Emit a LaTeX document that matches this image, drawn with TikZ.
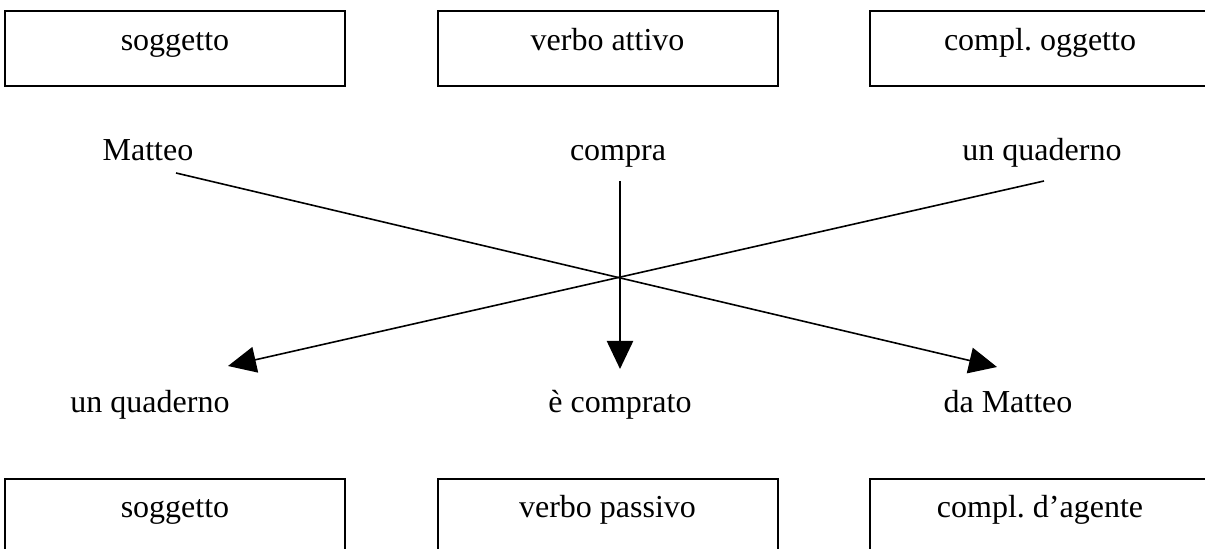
\documentclass[tikz,border=0pt]{standalone}
\usepackage{fontspec}
\setmainfont{Liberation Serif}
\usetikzlibrary{arrows.meta}
\frenchspacing
\begin{document}
\begin{tikzpicture}[x=0.5pt,y=-0.5pt,
  every node/.style={font=\fontsize{16}{19}\selectfont, inner sep=0pt},
  catbox/.style={draw, line width=1pt, minimum width=170pt, text height=20pt, text depth=17.5pt, anchor=base},
  word/.style={anchor=base},
  conn/.style={line width=0.8pt, -{Triangle[length=14pt,width=13pt]}},
  vconn/.style={line width=1.2pt, -{Triangle[length=14pt,width=13pt]}}]
\useasboundingbox (0,0) rectangle (1205,549);
\clip (0,0) rectangle (1205,549);
% top boxes
\node[catbox] (b1) at (175,51) {soggetto};
\node[catbox] (b2) at (607.5,51) {verbo attivo};
\node[catbox] (b3) at (1040,51) {compl. oggetto};
% bottom boxes
\node[catbox, text height=19.5pt] (b4) at (175,518) {soggetto};
\node[catbox, text height=19.5pt] (b5) at (607.5,518) {verbo passivo};
\node[catbox, text height=19.5pt] (b6) at (1040,518) {compl. d’agente};
% active sentence
\node[word] (w1) at (148,161) {Matteo};
\node[word] (w2) at (618,161) {compra};
\node[word] (w3) at (1042,161) {un quaderno};
% passive sentence
\node[word] (p1) at (150,413) {un quaderno};
\node[word] (p2) at (620,413) {è comprato};
\node[word] (p3) at (1008,413) {da Matteo};
% connector ends
\coordinate (s1) at (176,173);
\coordinate (s2) at (620,181);
\coordinate (s3) at (1044,181);
\coordinate (t1) at (228,366);
\coordinate (t2) at (620,369);
\coordinate (t3) at (997,367);
\draw[conn] (s1) -- (t3);
\draw[conn] (s3) -- (t1);
\draw[vconn] (s2) -- (t2);
\end{tikzpicture}
\end{document}
